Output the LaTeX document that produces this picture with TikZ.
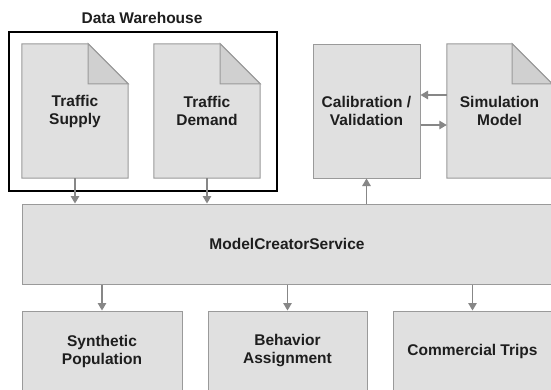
\documentclass[tikz,border=0pt]{standalone}
\usepackage{fontspec}
\setmainfont{Liberation Sans}
\usetikzlibrary{arrows.meta}
\definecolor{boxfill}{HTML}{E0E0E0}
\definecolor{boxline}{HTML}{9A9A9A}
\definecolor{foldfill}{HTML}{D0D0D0}
\definecolor{arr}{HTML}{878787}
\definecolor{txt}{HTML}{1E1E1E}
\tikzset{
  lbl/.style={font=\bfseries\fontsize{15.5}{18}\selectfont, text=txt, align=center, inner sep=0pt},
  box/.style={lbl, draw=boxline, fill=boxfill, line width=1pt},
  docnode/.style={lbl},
  docshape/.style={draw=boxline, fill=boxfill, line width=1pt, line join=miter},
  foldshape/.style={draw=boxline, fill=foldfill, line width=1pt},
  conn/.style={draw=arr, line width=1.3pt, -{Triangle[width=8.5pt,length=7.5pt]}},
}
\newcommand{\docdraw}[1]{%
  \path[docshape] (#1.north west) -- ([xshift=-40pt]#1.north east) -- ([yshift=-40pt]#1.north east) -- (#1.south east) -- (#1.south west) -- cycle;
  \path[foldshape] ([xshift=-40pt]#1.north east) -- ([xshift=-40pt,yshift=-40pt]#1.north east) -- ([yshift=-40pt]#1.north east) -- cycle;
}
\begin{document}
\begin{tikzpicture}[x=1pt,y=-1pt]
\useasboundingbox[fill=white] (0,0) rectangle (551,389);
% data warehouse
\node[draw=black, line width=1.2pt, minimum width=268pt, minimum height=159pt, inner sep=0pt] (dw) at (143,111.5) {};
\node[lbl] (dwt) at (142,17.5) {Data Warehouse};
% documents
\node[docnode, minimum width=106pt, minimum height=134pt] (ts) at (75,111) {};
\docdraw{ts}
\node[lbl] (tst) at (ts) {Traffic\\Supply};
\node[docnode, minimum width=106pt, minimum height=134pt] (td) at (207,111) {};
\docdraw{td}
\node[lbl] (tdt) at (td) {Traffic\\Demand};
\node[box, minimum width=107pt, minimum height=134pt] (cal) at (366.5,111) {Calibration /\\Validation};
\node[docnode, minimum width=105pt, minimum height=134pt] (sim) at (499.5,111) {};
\docdraw{sim}
\node[lbl] (simt) at (sim) {Simulation\\Model};
% service
\node[box, minimum width=530pt, minimum height=80pt] (mcs) at (287,244) {ModelCreatorService};
% outputs
\node[box, minimum width=160pt, minimum height=80pt] (sp) at (102,351) {Synthetic\\Population};
\node[box, minimum width=159pt, minimum height=80pt] (ba) at (287.5,351) {Behavior\\Assignment};
\node[box, minimum width=159pt, minimum height=80pt] (ct) at (472.5,351) {Commercial Trips};
% connectors
\draw[conn] (ts.south) -- (ts.south |- mcs.north);
\draw[conn] (td.south) -- (td.south |- mcs.north);
\draw[conn] (cal.south |- mcs.north) -- (cal.south);
\draw[conn] ([yshift=16pt]sim.west) -- ([yshift=16pt]cal.east);
\draw[conn] ([yshift=-14pt]cal.east) -- ([yshift=-14pt]sim.west);
\draw[conn] (mcs.south -| sp.north) -- (sp.north);
\draw[conn] (mcs.south -| ba.north) -- (ba.north);
\draw[conn] (mcs.south -| ct.north) -- (ct.north);
\end{tikzpicture}
\end{document}
